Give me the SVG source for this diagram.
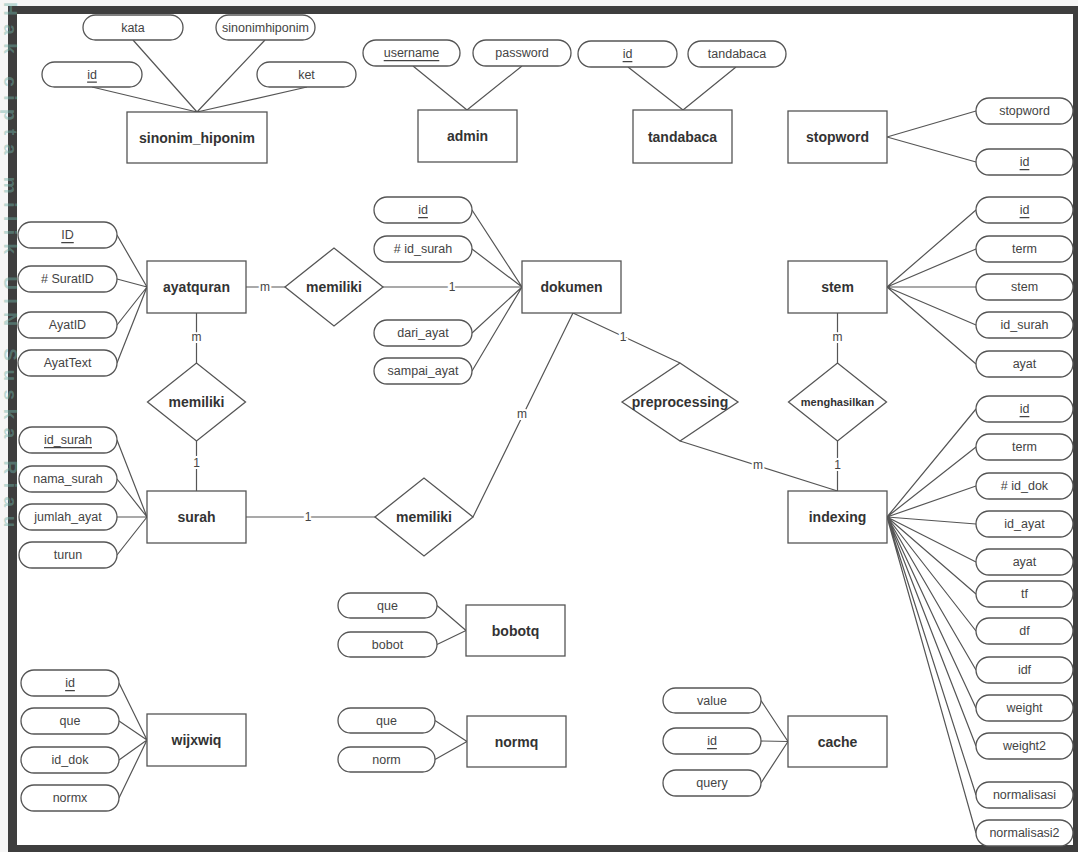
<svg xmlns="http://www.w3.org/2000/svg" width="1078" height="852" viewBox="0 0 1078 852">
<style>
.pill{fill:#fff;stroke:#555;stroke-width:1.3}
.ent{fill:#fff;stroke:#555;stroke-width:1.3}
.dia{fill:#fff;stroke:#555;stroke-width:1.3}
.ln{stroke:#555;stroke-width:1.2;fill:none}
.at{font-family:"Liberation Sans",Arial,sans-serif;font-size:12.5px;fill:#444;text-anchor:middle;dominant-baseline:central}
.u{text-decoration:underline}
.et{font-family:"Liberation Sans",Arial,sans-serif;font-size:14px;font-weight:bold;fill:#333;text-anchor:middle;dominant-baseline:central}
.lb{font-family:"Liberation Sans",Arial,sans-serif;font-size:12px;fill:#444;text-anchor:middle;dominant-baseline:central;paint-order:stroke;stroke:#fff;stroke-width:4}
</style>
<rect x="0" y="0" width="1078" height="852" fill="#f6f6f6"/>
<rect x="8" y="6" width="1070" height="846" fill="#3e3e3e"/>
<rect x="17" y="14" width="1056" height="831" fill="#fff"/>

<g id="connectors">
<path class="ln" d="M92 87L197 112M133 40L197 112M265 40L197 112M307 87L197 112"/>
<path class="ln" d="M413 66L467 110M522 66L467 110"/>
<path class="ln" d="M628 67L683 110M736 67L683 110"/>
<path class="ln" d="M887 137L976 111M887 137L976 162"/>
<path class="ln" d="M117 235L147 287M117 279L147 287M117 325L147 287M117 363L147 287"/>
<path class="ln" d="M117 440L147 517M117 479L147 517M117 517L147 517M117 555L147 517"/>
<path class="ln" d="M472 210L522 287M472 249L522 287M472 333L522 287M472 371L522 287"/>
<path class="ln" d="M887 287L976 210M887 287L976 249M887 287L976 287M887 287L976 325M887 287L976 364"/>
<path class="ln" d="M887 517L976 409M887 517L976 447M887 517L976 486M887 517L976 524M887 517L976 562M887 517L976 594M887 517L976 631M887 517L976 670M887 517L976 708M887 517L976 746M887 517L976 795M887 517L976 833"/>
<path class="ln" d="M437 605.5L466 630.5M437 644.5L466 630.5"/>
<path class="ln" d="M435 720.5L467 741.5M435 759.5L467 741.5"/>
<path class="ln" d="M761 700.5L788 741.5M761 741L788 741.5M761 783L788 741.5"/>
<path class="ln" d="M119 683L147 740M119 721L147 740M119 760L147 740M119 798L147 740"/>
<path class="ln" d="M246 287H285M383 287H522"/>
<path class="ln" d="M196.5 313V363M196.5 441V491"/>
<path class="ln" d="M246 517H375M473 517L573 313"/>
<path class="ln" d="M573 313L680 363M680 441L837.5 491"/>
<path class="ln" d="M837.5 313V363M837.5 441V491"/>
<text class="lb" x="265" y="287">m</text>
<text class="lb" x="452" y="287">1</text>
<text class="lb" x="196.5" y="337">m</text>
<text class="lb" x="196.5" y="463">1</text>
<text class="lb" x="308" y="517">1</text>
<text class="lb" x="522" y="414">m</text>
<text class="lb" x="623" y="337">1</text>
<text class="lb" x="758" y="465">m</text>
<text class="lb" x="837.5" y="337">m</text>
<text class="lb" x="837.5" y="465">1</text>
</g>

<g id="sinonim_hiponim">
<rect class="pill" x="83" y="15" width="100" height="25" rx="12.5"/><text class="at" x="133" y="27.5">kata</text>
<rect class="pill" x="216" y="15" width="99" height="25" rx="12.5"/><text class="at" x="265.5" y="27.5">sinonimhiponim</text>
<rect class="pill" x="42" y="62" width="100" height="25" rx="12.5"/><text class="at u" x="92" y="74.5">id</text>
<rect class="pill" x="257" y="62" width="99" height="25" rx="12.5"/><text class="at" x="306.5" y="74.5">ket</text>
<rect class="ent" x="127" y="112" width="140" height="51"/><text class="et" x="197" y="137.5">sinonim_hiponim</text>
</g>

<g id="admin">
<rect class="pill" x="363" y="40" width="97" height="26" rx="13"/><text class="at u" x="411.5" y="53">username</text>
<rect class="pill" x="473" y="40" width="98" height="26" rx="13"/><text class="at" x="522" y="53">password</text>
<rect class="ent" x="418" y="110" width="99" height="52"/><text class="et" x="467.5" y="136">admin</text>
</g>

<g id="tandabaca">
<rect class="pill" x="578" y="41" width="99" height="26" rx="13"/><text class="at u" x="627.5" y="54">id</text>
<rect class="pill" x="688" y="41" width="98" height="26" rx="13"/><text class="at" x="737" y="54">tandabaca</text>
<rect class="ent" x="633" y="110" width="99" height="53"/><text class="et" x="682.5" y="136.5">tandabaca</text>
</g>

<g id="stopword">
<rect class="ent" x="788" y="111" width="99" height="52"/><text class="et" x="837.5" y="137">stopword</text>
<rect class="pill" x="976" y="98" width="97" height="26" rx="13"/><text class="at" x="1024.5" y="111">stopword</text>
<rect class="pill" x="976" y="149" width="97" height="26" rx="13"/><text class="at u" x="1024.5" y="162">id</text>
</g>

<g id="ayatquran">
<rect class="ent" x="147" y="261" width="99" height="52"/><text class="et" x="196.5" y="287">ayatquran</text>
<rect class="pill" x="18" y="222" width="99" height="26" rx="13"/><text class="at u" x="67.5" y="235">ID</text>
<rect class="pill" x="18" y="266" width="99" height="26" rx="13"/><text class="at" x="67.5" y="279"># SuratID</text>
<rect class="pill" x="18" y="312" width="99" height="26" rx="13"/><text class="at" x="67.5" y="325">AyatID</text>
<rect class="pill" x="18" y="350" width="99" height="26" rx="13"/><text class="at" x="67.5" y="363">AyatText</text>
</g>

<g id="memiliki_ayat_dokumen">
<polygon class="dia" points="285,287 334,248 383,287 334,326"/><text class="et" x="334" y="287">memiliki</text>
</g>

<g id="memiliki_ayat_surah">
<polygon class="dia" points="147.5,402 196.5,363 245.5,402 196.5,441"/><text class="et" x="196.5" y="402">memiliki</text>
</g>

<g id="surah">
<rect class="ent" x="147" y="491" width="99" height="52"/><text class="et" x="196.5" y="517">surah</text>
<rect class="pill" x="19" y="427" width="98" height="26" rx="13"/><text class="at u" x="68" y="440">id_surah</text>
<rect class="pill" x="19" y="466" width="98" height="26" rx="13"/><text class="at" x="68" y="479">nama_surah</text>
<rect class="pill" x="19" y="504" width="98" height="26" rx="13"/><text class="at" x="68" y="517">jumlah_ayat</text>
<rect class="pill" x="19" y="542" width="98" height="26" rx="13"/><text class="at" x="68" y="555">turun</text>
</g>

<g id="memiliki_surah_dokumen">
<polygon class="dia" points="375,517 424,478 473,517 424,556"/><text class="et" x="424" y="517">memiliki</text>
</g>

<g id="dokumen">
<rect class="ent" x="522" y="261" width="99" height="52"/><text class="et" x="571.5" y="287">dokumen</text>
<rect class="pill" x="374" y="197" width="98" height="26" rx="13"/><text class="at u" x="423" y="210">id</text>
<rect class="pill" x="374" y="236" width="98" height="26" rx="13"/><text class="at" x="423" y="249"># id_surah</text>
<rect class="pill" x="374" y="320" width="98" height="26" rx="13"/><text class="at" x="423" y="333">dari_ayat</text>
<rect class="pill" x="374" y="358" width="98" height="26" rx="13"/><text class="at" x="423" y="371">sampai_ayat</text>
</g>

<g id="preprocessing">
<polygon class="dia" points="622,402 680,363 738,402 680,441"/><text class="et" x="680" y="402">preprocessing</text>
</g>

<g id="stem">
<rect class="ent" x="788" y="261" width="99" height="52"/><text class="et" x="837.5" y="287">stem</text>
<rect class="pill" x="976" y="197" width="97" height="26" rx="13"/><text class="at u" x="1024.5" y="210">id</text>
<rect class="pill" x="976" y="236" width="97" height="26" rx="13"/><text class="at" x="1024.5" y="249">term</text>
<rect class="pill" x="976" y="274" width="97" height="26" rx="13"/><text class="at" x="1024.5" y="287">stem</text>
<rect class="pill" x="976" y="312" width="97" height="26" rx="13"/><text class="at" x="1024.5" y="325">id_surah</text>
<rect class="pill" x="976" y="351" width="97" height="26" rx="13"/><text class="at" x="1024.5" y="364">ayat</text>
</g>

<g id="menghasilkan">
<polygon class="dia" points="788.5,402 837.5,363 886.5,402 837.5,441"/><text class="et" x="837.5" y="402" style="font-size:11px">menghasilkan</text>
</g>

<g id="indexing">
<rect class="ent" x="788" y="491" width="99" height="52"/><text class="et" x="837.5" y="517">indexing</text>
<rect class="pill" x="976" y="396" width="97" height="26" rx="13"/><text class="at u" x="1024.5" y="409">id</text>
<rect class="pill" x="976" y="434" width="97" height="26" rx="13"/><text class="at" x="1024.5" y="447">term</text>
<rect class="pill" x="976" y="473" width="97" height="26" rx="13"/><text class="at" x="1024.5" y="486"># id_dok</text>
<rect class="pill" x="976" y="511" width="97" height="26" rx="13"/><text class="at" x="1024.5" y="524">id_ayat</text>
<rect class="pill" x="976" y="549" width="97" height="26" rx="13"/><text class="at" x="1024.5" y="562">ayat</text>
<rect class="pill" x="976" y="581" width="97" height="26" rx="13"/><text class="at" x="1024.5" y="594">tf</text>
<rect class="pill" x="976" y="618" width="97" height="26" rx="13"/><text class="at" x="1024.5" y="631">df</text>
<rect class="pill" x="976" y="657" width="97" height="26" rx="13"/><text class="at" x="1024.5" y="670">idf</text>
<rect class="pill" x="976" y="695" width="97" height="26" rx="13"/><text class="at" x="1024.5" y="708">weight</text>
<rect class="pill" x="976" y="733" width="97" height="26" rx="13"/><text class="at" x="1024.5" y="746">weight2</text>
<rect class="pill" x="976" y="782" width="97" height="26" rx="13"/><text class="at" x="1024.5" y="795">normalisasi</text>
<rect class="pill" x="976" y="820" width="97" height="26" rx="13"/><text class="at" x="1024.5" y="833">normalisasi2</text>
</g>

<g id="bobotq">
<rect class="ent" x="466" y="605" width="99" height="51"/><text class="et" x="515.5" y="630.5">bobotq</text>
<rect class="pill" x="338" y="593" width="99" height="25" rx="12.5"/><text class="at" x="387.5" y="605.5">que</text>
<rect class="pill" x="338" y="632" width="99" height="25" rx="12.5"/><text class="at" x="387.5" y="644.5">bobot</text>
</g>

<g id="normq">
<rect class="ent" x="467" y="716" width="99" height="51"/><text class="et" x="516.5" y="741.5">normq</text>
<rect class="pill" x="338" y="708" width="97" height="25" rx="12.5"/><text class="at" x="386.5" y="720.5">que</text>
<rect class="pill" x="338" y="747" width="97" height="25" rx="12.5"/><text class="at" x="386.5" y="759.5">norm</text>
</g>

<g id="cache">
<rect class="ent" x="788" y="716" width="99" height="51"/><text class="et" x="837.5" y="741.5">cache</text>
<rect class="pill" x="663" y="688" width="98" height="25" rx="12.5"/><text class="at" x="712" y="700.5">value</text>
<rect class="pill" x="663" y="728" width="98" height="26" rx="13"/><text class="at u" x="712" y="741">id</text>
<rect class="pill" x="663" y="770" width="98" height="26" rx="13"/><text class="at" x="712" y="783">query</text>
</g>

<g id="wijxwiq">
<rect class="ent" x="147" y="714" width="99" height="52"/><text class="et" x="196.5" y="740">wijxwiq</text>
<rect class="pill" x="21" y="670" width="98" height="26" rx="13"/><text class="at u" x="70" y="683">id</text>
<rect class="pill" x="21" y="708" width="98" height="26" rx="13"/><text class="at" x="70" y="721">que</text>
<rect class="pill" x="21" y="747" width="98" height="26" rx="13"/><text class="at" x="70" y="760">id_dok</text>
<rect class="pill" x="21" y="785" width="98" height="26" rx="13"/><text class="at" x="70" y="798">normx</text>
</g>

<text transform="translate(4,2) rotate(90)" font-family="'Liberation Sans',Arial,sans-serif" font-size="19" font-weight="bold" letter-spacing="8.5" fill="#6fb3a8" fill-opacity="0.45">Hak cipta milik UIN Suska Riau</text>
</svg>
